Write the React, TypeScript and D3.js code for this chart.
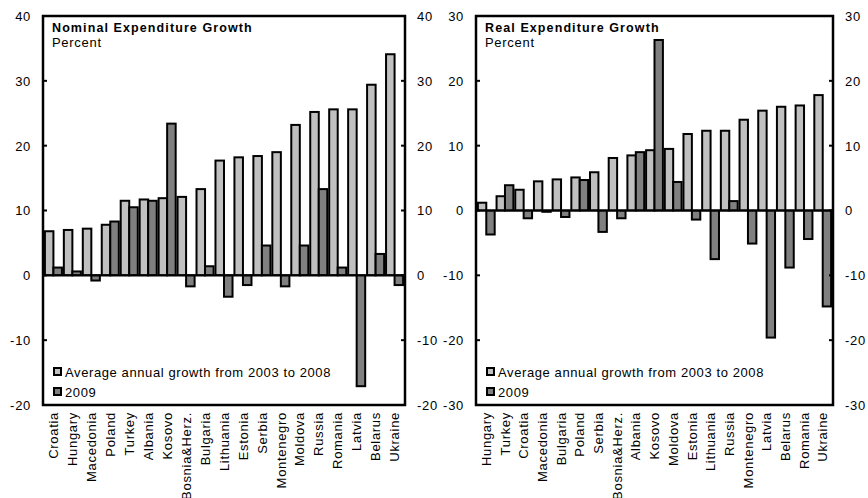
import React from "react";
import * as d3 from "d3";

const nominalCategories = ["Croatia","Hungary","Macedonia","Poland","Turkey","Albania","Kosovo","Bosnia&Herz.","Bulgaria","Lithuania","Estonia","Serbia","Montenegro","Moldova","Russia","Romania","Latvia","Belarus","Ukraine"];
const nominalAvg = [6.8,7.0,7.2,7.8,11.5,11.7,11.9,12.1,13.3,17.7,18.2,18.4,19.0,23.2,25.2,25.6,25.6,29.4,34.1];
const nominal2009 = [1.2,0.6,-0.8,8.3,10.5,11.5,23.4,-1.7,1.4,-3.3,-1.5,4.6,-1.7,4.6,13.3,1.2,-17.1,3.3,-1.5];
const nominalTicks = [40,30,20,10,0,-10,-20];

const realCategories = ["Hungary","Turkey","Croatia","Macedonia","Bulgaria","Poland","Serbia","Bosnia&Herz.","Albania","Kosovo","Moldova","Estonia","Lithuania","Russia","Montenegro","Latvia","Belarus","Romania","Ukraine"];
const realAvg = [1.2,2.2,3.2,4.5,4.8,5.1,5.9,8.1,8.5,9.3,9.5,11.8,12.3,12.3,14.0,15.4,16.0,16.2,17.8];
const real2009 = [-3.7,3.9,-1.2,-0.2,-1.0,4.7,-3.3,-1.2,9.0,26.3,4.4,-1.4,-7.5,1.45,-5.1,-19.6,-8.8,-4.4,-14.8];
const realTicks = [30,20,10,0,-10,-20,-30];

const legendLabels = ["Average annual growth from 2003 to 2008","2009"];
const LIGHT = "#c0c0c0";
const DARK = "#808080";
const FONT = "'Liberation Sans', Arial, sans-serif";

type PanelProps = {
  x0: number; x1: number; y0: number; y1: number;
  ticks: number[]; categories: string[]; avg: number[]; y2009: number[]; title: string;
};

function Panel({ x0, x1, y0, y1, ticks, categories, avg, y2009, title }: PanelProps) {
  const y = d3.scaleLinear().domain([d3.min(ticks)!, d3.max(ticks)!]).range([y1, y0]);
  const x = d3.scaleBand<string>().domain(categories).range([x0, x1]).paddingInner(0.1).paddingOuter(0.1);
  const bw = x.bandwidth() / 2;
  const zero = y(0);
  const series = [avg, y2009];
  const colors = [LIGHT, DARK];
  return (
    <g>
      {series.map((vals, si) =>
        vals.map((v, i) => {
          const bx = x(categories[i])! + si * bw;
          const top = Math.min(y(v), zero);
          const h = Math.abs(y(v) - zero);
          return <rect key={`${si}-${i}`} x={bx} y={top} width={bw} height={h} fill={colors[si]} stroke="#000" strokeWidth={2} />;
        })
      )}
      <line x1={x0} x2={x1} y1={zero} y2={zero} stroke="#000" strokeWidth={2} />
      <rect x={x0} y={y0} width={x1 - x0} height={y1 - y0} fill="none" stroke="#000" strokeWidth={2.5} />
      {ticks.map((t) => (
        <g key={t}>
          <line x1={x0} x2={x0 + 4} y1={y(t)} y2={y(t)} stroke="#000" strokeWidth={2} />
          <line x1={x1 - 4} x2={x1} y1={y(t)} y2={y(t)} stroke="#000" strokeWidth={2} />
          <text x={x0 - 12} y={y(t)} dy="0.38em" textAnchor="end" fontSize={13} letterSpacing={0.7}>{t}</text>
          <text x={x1 + 12} y={y(t)} dy="0.38em" textAnchor="start" fontSize={13} letterSpacing={0.7}>{t}</text>
        </g>
      ))}
      {categories.map((c) => (
        <text key={c} transform={`translate(${x(c)! + x.bandwidth() / 2},${y1 + 7}) rotate(-90)`} dy="0.36em" textAnchor="end" fontSize={13} letterSpacing={0.7}>{c}</text>
      ))}
      <text x={x0 + 9} y={32} fontSize={12.5} fontWeight="bold" letterSpacing={1.1}>{title}</text>
      <text x={x0 + 9} y={47} fontSize={13} letterSpacing={0.7}>Percent</text>
      {legendLabels.map((l, i) => (
        <g key={l}>
          <rect x={x0 + 11} y={368 + i * 20} width={7} height={7} fill={colors[i]} stroke="#000" strokeWidth={2} />
          <text x={x0 + 22} y={377 + i * 20} fontSize={13} letterSpacing={0.6}>{l}</text>
        </g>
      ))}
    </g>
  );
}

export default function App() {
  return (
    <svg width={868} height={498} style={{ position: "absolute", left: 0, top: 0, background: "#fff" }} fontFamily={FONT}>
      <rect x={0} y={0} width={868} height={498} fill="#fff" />
      <Panel x0={43} x1={405} y0={16} y1={405} ticks={nominalTicks} categories={nominalCategories} avg={nominalAvg} y2009={nominal2009} title="Nominal Expenditure Growth" />
      <Panel x0={476} x1={833} y0={16} y1={405} ticks={realTicks} categories={realCategories} avg={realAvg} y2009={real2009} title="Real Expenditure Growth" />
    </svg>
  );
}
